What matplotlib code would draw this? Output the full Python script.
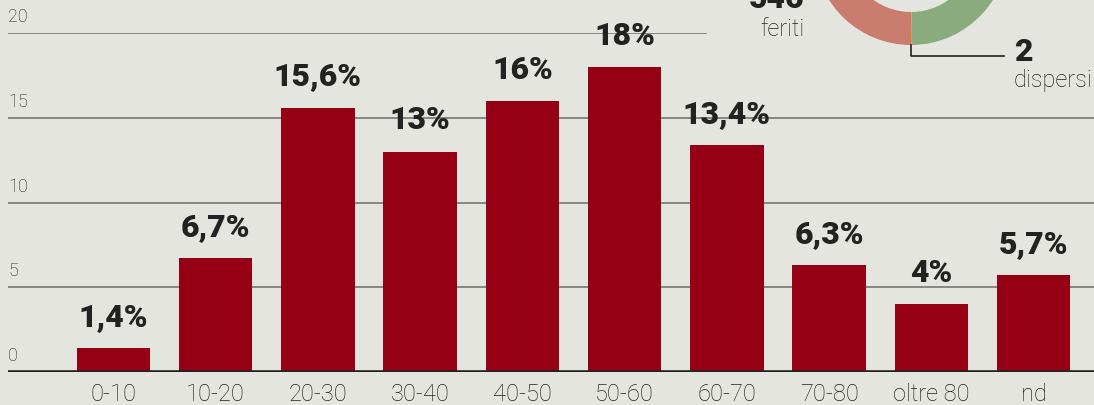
import matplotlib
matplotlib.use("Agg")
import matplotlib.pyplot as plt
from matplotlib.transforms import blended_transform_factory

# data
categories = ["0-10", "10-20", "20-30", "30-40", "40-50", "50-60", "60-70", "70-80", "oltre 80", "nd"]
values = [1.4, 6.7, 15.6, 13, 16, 18, 13.4, 6.3, 4, 5.7]
value_labels = ["1,4%", "6,7%", "15,6%", "13%", "16%", "18%", "13,4%", "6,3%", "4%", "5,7%"]
y_ticks = [0, 5, 10, 15, 20]
donut_values = [2, 600, 546]          # dispersi, altri (non leggibile), feriti
donut_colors = ["#e39a3b", "#8aab7e", "#c97b6e"]

BG = "#e5e5e0"
BAR = "#950014"
DARK = "#222222"
GRID = "#6b6b6b"
TXT = "#222222"

plt.rcParams["font.family"] = ["Roboto", "DejaVu Sans"]

fig = plt.figure(figsize=(10.94, 4.05), dpi=100, facecolor=BG)
W, H = 1094, 405

ax = fig.add_axes([8 / W, 1 - 372 / H, 1 - 8 / W, (372 - 33) / H])
ax.set_facecolor(BG)
x = list(range(len(categories)))
ax.bar(x, values, width=0.72, color=BAR, zorder=3)
ax.set_xlim(-1.03, 9.59)
ax.set_ylim(0, 20)

for s in ax.spines.values():
    s.set_visible(False)
ax.set_yticks([])
ax.set_xticks(x)
ax.set_xticklabels(categories, fontsize=17, color=TXT, fontweight="light")
ax.tick_params(axis="x", length=0, pad=8)

# gridlines (the top one stops before the donut labels)
for t in y_ticks[1:]:
    xmax = (706 - 8) / (W - 8) if t == 20 else 1
    ax.axhline(t, xmin=0, xmax=xmax, color=GRID, lw=1.1, zorder=1)
ax.axhline(0, color=DARK, lw=2.6, zorder=4)

trans = blended_transform_factory(ax.transAxes, ax.transData)
for t in y_ticks:
    ax.annotate(str(t), xy=(0, t), xycoords=trans, xytext=(0, 5), textcoords="offset points",
                ha="left", va="bottom", fontsize=13, color=TXT, fontweight="light")

for xi, v, lab in zip(x, values, value_labels):
    ax.annotate(lab, xy=(xi, v), xytext=(0, 16), textcoords="offset points",
                ha="center", va="baseline", fontsize=23, fontweight="heavy", color=DARK, zorder=5)

# donut, mostly cut off at the top edge
R = 97
dax = fig.add_axes([(911 - R) / W, 1 - (-52 + R) / H, 2 * R / W, 2 * R / H])
dax.pie(donut_values, colors=donut_colors, startangle=270, counterclock=True,
        wedgeprops=dict(width=33 / R, linewidth=0))
dax.set_xlim(-1, 1)
dax.set_ylim(-1, 1)
dax.set_aspect("equal")
dax.axis("off")

fig.text(804 / W, 1 - 8 / H, "546", ha="right", va="baseline", fontsize=23, fontweight="heavy", color=DARK)
fig.text(804 / W, 1 - 30 / H, "feriti", ha="right", va="center", fontsize=17, color=TXT, fontweight="light")
fig.text(1014 / W, 1 - 52 / H, "2", ha="left", va="center", fontsize=23, fontweight="heavy", color=DARK)
fig.text(1014 / W, 1 - 81 / H, "dispersi", ha="left", va="center", fontsize=17, color=TXT, fontweight="light")
fig.add_artist(plt.Line2D([911 / W, 911 / W, 1004 / W], [1 - 45 / H, 1 - 56 / H, 1 - 56 / H],
                          color=DARK, lw=1.2))

fig.savefig("out.png", dpi=100, facecolor=BG)
